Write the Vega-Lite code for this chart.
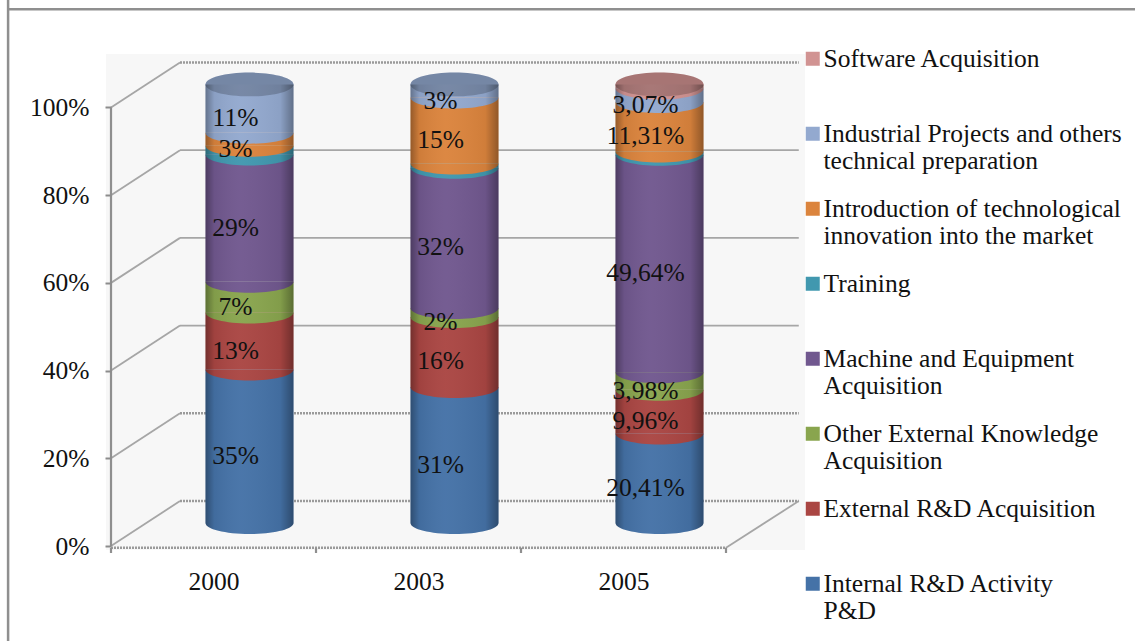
{
"$schema":"https://vega.github.io/schema/vega-lite/v6.json",
"autosize":{"type":"none"},"padding":0,"width":1135,"height":641,
"background":"white",
"view":{"stroke":null},
"config":{"font":"Liberation Serif"},
"resolve":{"axis":{"x":"independent","y":"independent"}},
"datasets":{
"wall":[{"x":-0.5244,"x2":2.8854,"y":-0.91,"y2":112.2}],
"frame":[{"x":-1.002,"x2":-1.002,"y":124.5,"y2":-21.7},{"x":-1.002,"x2":4.4951,"y":122.4,"y2":122.4}],
"axisLines":[{"x":-0.5,"x2":-0.5,"y":0,"y2":100},{"x":-0.5,"x2":-0.5,"y":-0.4,"y2":-1.6},{"x":0.5,"x2":0.5,"y":-0.4,"y2":-1.6},{"x":1.5,"x2":1.5,"y":-0.4,"y2":-1.6},{"x":2.5,"x2":2.5,"y":-0.4,"y2":-1.6}],
"grid":[
{"x":-0.5,"x2":-0.1634,"y":0,"y2":10.26},{"x":-0.5,"x2":-0.1634,"y":20,"y2":30.26},{"x":-0.5,"x2":-0.1634,"y":40,"y2":50.26},{"x":-0.5,"x2":-0.1634,"y":60,"y2":70.26},{"x":-0.5,"x2":-0.1634,"y":80,"y2":90.26},{"x":-0.5,"x2":-0.1634,"y":100,"y2":110.26},
{"x":2.5,"x2":2.855,"y":-0.4,"y2":10.26},
{"x":-0.1634,"x2":2.855,"y":50.26,"y2":50.26},{"x":-0.1634,"x2":2.855,"y":70.26,"y2":70.26},{"x":-0.1634,"x2":2.855,"y":90.26,"y2":90.26}],
"gridDotted":[
{"x":-0.1634,"x2":2.855,"y":10.26,"y2":10.26},{"x":-0.1634,"x2":2.855,"y":30.26,"y2":30.26},{"x":-0.1634,"x2":2.855,"y":110.26,"y2":110.26},{"x":-0.5,"x2":2.5,"y":-0.4,"y2":-0.4}],
"shares":[
{"pos":0,"ord":1,"series":"Internal R&D Activity P&D","value":35,"label":"35%"},
{"pos":0,"ord":2,"series":"External R&D Acquisition","value":13,"label":"13%"},
{"pos":0,"ord":3,"series":"Other External Knowledge Acquisition","value":7,"label":"7%"},
{"pos":0,"ord":4,"series":"Machine and Equipment Acquisition","value":29,"label":"29%"},
{"pos":0,"ord":5,"series":"Training","value":2,"label":""},
{"pos":0,"ord":6,"series":"Introduction of technological innovation into the market","value":3,"label":"3%"},
{"pos":0,"ord":7,"series":"Industrial Projects and others technical preparation","value":11,"label":"11%"},
{"pos":1,"ord":1,"series":"Internal R&D Activity P&D","value":31,"label":"31%"},
{"pos":1,"ord":2,"series":"External R&D Acquisition","value":16,"label":"16%"},
{"pos":1,"ord":3,"series":"Other External Knowledge Acquisition","value":2,"label":"2%"},
{"pos":1,"ord":4,"series":"Machine and Equipment Acquisition","value":32,"label":"32%"},
{"pos":1,"ord":5,"series":"Training","value":1,"label":""},
{"pos":1,"ord":6,"series":"Introduction of technological innovation into the market","value":15,"label":"15%"},
{"pos":1,"ord":7,"series":"Industrial Projects and others technical preparation","value":3,"label":"3%"},
{"pos":2,"ord":1,"series":"Internal R&D Activity P&D","value":20.41,"label":"20,41%"},
{"pos":2,"ord":2,"series":"External R&D Acquisition","value":9.96,"label":"9,96%"},
{"pos":2,"ord":3,"series":"Other External Knowledge Acquisition","value":3.98,"label":"3,98%"},
{"pos":2,"ord":4,"series":"Machine and Equipment Acquisition","value":49.64,"label":"49,64%"},
{"pos":2,"ord":5,"series":"Training","value":0.7,"label":""},
{"pos":2,"ord":6,"series":"Introduction of technological innovation into the market","value":11.31,"label":"11,31%"},
{"pos":2,"ord":7,"series":"Industrial Projects and others technical preparation","value":3.07,"label":"3,07%"},
{"pos":2,"ord":8,"series":"Software Acquisition","value":0.93,"label":""}
],
"tops":[{"pos":0,"top":100,"series":"Industrial Projects and others technical preparation"},{"pos":1,"top":100,"series":"Industrial Projects and others technical preparation"},{"pos":2,"top":100,"series":"Software Acquisition"}],
"bases":[{"pos":0,"base":0},{"pos":1,"base":0},{"pos":2,"base":0}]
},
"layer":[
{"data":{"name":"wall"},"mark":{"type":"rect","fill":"#f7f7f7"},
 "encoding":{
  "x":{"field":"x","type":"quantitative","scale":{"domain":[-1.0415,4.4951],"nice":false,"zero":false,"padding":0},"title":null,
   "axis":{"orient":"bottom","offset":-93,"values":[0,1,2],"labelExpr":"['2000','2003','2005'][datum.value]","grid":false,"domain":false,"ticks":false,"labelFont":"Liberation Serif","labelFontSize":25.5,"labelColor":"#111111","labelPadding":21,"zindex":1}},
  "x2":{"field":"x2"},
  "y":{"field":"y","type":"quantitative","scale":{"domain":[-21.66,124.5],"nice":false,"zero":false},"title":null,
   "axis":{"orient":"left","offset":-111,"values":[0,20,40,60,80,100],"labelExpr":"datum.value+'%'","grid":false,"domain":false,"tickColor":"#8c8c8c","tickWidth":2,"tickSize":6,"labelFont":"Liberation Serif","labelFontSize":25.5,"labelColor":"#111111","labelPadding":16,"zindex":1}},
  "y2":{"field":"y2"}}},
{"data":{"name":"frame"},"mark":{"type":"rule","stroke":"#8f8f8f","strokeWidth":2.5},
 "encoding":{"x":{"field":"x","type":"quantitative","axis":null},"x2":{"field":"x2"},"y":{"field":"y","type":"quantitative","axis":null},"y2":{"field":"y2"}}},
{"data":{"name":"grid"},"mark":{"type":"rule","stroke":"#a6a6a6","strokeWidth":1.8},
 "encoding":{"x":{"field":"x","type":"quantitative","axis":null},"x2":{"field":"x2"},"y":{"field":"y","type":"quantitative","axis":null},"y2":{"field":"y2"}}},
{"data":{"name":"gridDotted"},"mark":{"type":"rule","stroke":"#9a9a9a","strokeWidth":2.6,"strokeDash":[2,1]},
 "encoding":{"x":{"field":"x","type":"quantitative","axis":null},"x2":{"field":"x2"},"y":{"field":"y","type":"quantitative","axis":null},"y2":{"field":"y2"}}},
{"data":{"name":"axisLines"},"mark":{"type":"rule","stroke":"#8f8f8f","strokeWidth":2.2},
 "encoding":{"x":{"field":"x","type":"quantitative","axis":null},"x2":{"field":"x2"},"y":{"field":"y","type":"quantitative","axis":null},"y2":{"field":"y2"}}},
{"data":{"name":"shares"},
 "transform":[{"stack":"value","groupby":["pos"],"sort":[{"field":"ord","order":"ascending"}],"as":["from","to"]}],
 "encoding":{
  "x":{"field":"pos","type":"quantitative","axis":null},
  "color":{"field":"series","type":"nominal",
   "scale":{"domain":["Software Acquisition","Industrial Projects and others technical preparation","Introduction of technological innovation into the market","Training","Machine and Equipment Acquisition","Other External Knowledge Acquisition","External R&D Acquisition","Internal R&D Activity P&D"],
    "range":["#d19392","#93a9cf","#db843d","#4198af","#71588f","#89a54e","#aa4643","#4572a7"]},
   "legend":{"orient":"none","legendX":800,"legendY":46,"title":null,"symbolType":"square","symbolSize":196,"symbolStrokeWidth":0,"labelFont":"Liberation Serif","labelFontSize":25.5,"labelColor":"#111111","labelLimit":400,"labelOffset":-2,"rowPadding":21,
    "labelExpr":"({'Software Acquisition':['Software Acquisition',' '],'Industrial Projects and others technical preparation':['Industrial Projects and others','technical preparation'],'Introduction of technological innovation into the market':['Introduction of technological','innovation into the market'],'Training':['Training',' '],'Machine and Equipment Acquisition':['Machine and Equipment','Acquisition'],'Other External Knowledge Acquisition':['Other External Knowledge','Acquisition'],'External R&D Acquisition':['External R&D Acquisition',' '],'Internal R&D Activity P&D':['Internal R&D Activity','P&D']})[datum.label]"}}},
 "layer":[
  {"mark":{"type":"bar","size":88,"xOffset":36,"yOffset":-23,"y2Offset":-23,"opacity":1},
   "encoding":{"y":{"field":"from","type":"quantitative","axis":null},"y2":{"field":"to"}}},
  {"mark":{"type":"point","filled":true,"opacity":1,"size":7744,"shape":"M -1 0 A 1 0.25 0 0 0 1 0 Z","xOffset":36,"yOffset":-23},
   "encoding":{"y":{"field":"from","type":"quantitative","axis":null}}}
 ]},
{"data":{"name":"tops"},
 "encoding":{"x":{"field":"pos","type":"quantitative","axis":null},"y":{"field":"top","type":"quantitative","axis":null}},
 "layer":[
  {"mark":{"type":"point","filled":true,"opacity":1,"size":7744,"shape":"M -1 0 A 1 0.27 0 1 0 1 0 A 1 0.27 0 1 0 -1 0 Z","xOffset":36,"yOffset":-23},
   "encoding":{"color":{"field":"series","type":"nominal","legend":null}}}
 ]},
{"data":{"name":"bases"},
 "layer":[
  {"mark":{"type":"bar","size":88,"xOffset":36,"yOffset":-23,"y2Offset":-23,"fill":{"gradient":"linear","x1":0,"y1":0,"x2":1,"y2":0,"stops":[{"offset":0,"color":"rgba(0,0,0,0.32)"},{"offset":0.1,"color":"rgba(0,0,0,0.06)"},{"offset":0.4,"color":"rgba(255,255,255,0.03)"},{"offset":0.85,"color":"rgba(0,0,0,0.05)"},{"offset":1,"color":"rgba(0,0,0,0.34)"}]}},
   "encoding":{"x":{"field":"pos","type":"quantitative","axis":null},"y":{"datum":0,"type":"quantitative","axis":null},"y2":{"datum":100}}},
  {"mark":{"type":"point","filled":true,"opacity":1,"size":7744,"shape":"M -1 0 A 1 0.25 0 0 0 1 0 Z","xOffset":36,"yOffset":-23,"fill":{"gradient":"linear","x1":0,"y1":0,"x2":1,"y2":0,"stops":[{"offset":0,"color":"rgba(0,0,0,0.32)"},{"offset":0.1,"color":"rgba(0,0,0,0.06)"},{"offset":0.4,"color":"rgba(255,255,255,0.03)"},{"offset":0.85,"color":"rgba(0,0,0,0.05)"},{"offset":1,"color":"rgba(0,0,0,0.34)"}]}},
   "encoding":{"x":{"field":"pos","type":"quantitative","axis":null},"y":{"field":"base","type":"quantitative","axis":null}}}
 ]},
{"data":{"name":"tops"},
 "mark":{"type":"point","filled":true,"opacity":0.2,"fill":"#000000","size":7744,"shape":"M -1 0 A 1 0.27 0 1 0 1 0 A 1 0.27 0 1 0 -1 0 Z","xOffset":36,"yOffset":-23},
 "encoding":{"x":{"field":"pos","type":"quantitative","axis":null},"y":{"field":"top","type":"quantitative","axis":null}}},
{"data":{"name":"shares"},
 "transform":[{"stack":"value","groupby":["pos"],"sort":[{"field":"ord","order":"ascending"}],"as":["from","to"]},{"calculate":"(datum.from+datum.to)/2","as":"mid"}],
 "mark":{"type":"text","font":"Liberation Serif","fontSize":25.5,"color":"#111111","xOffset":22,"yOffset":-13.5,"align":"center","baseline":"middle"},
 "encoding":{"x":{"field":"pos","type":"quantitative","axis":null},"y":{"field":"mid","type":"quantitative","axis":null},"text":{"field":"label"}}}
]
}
